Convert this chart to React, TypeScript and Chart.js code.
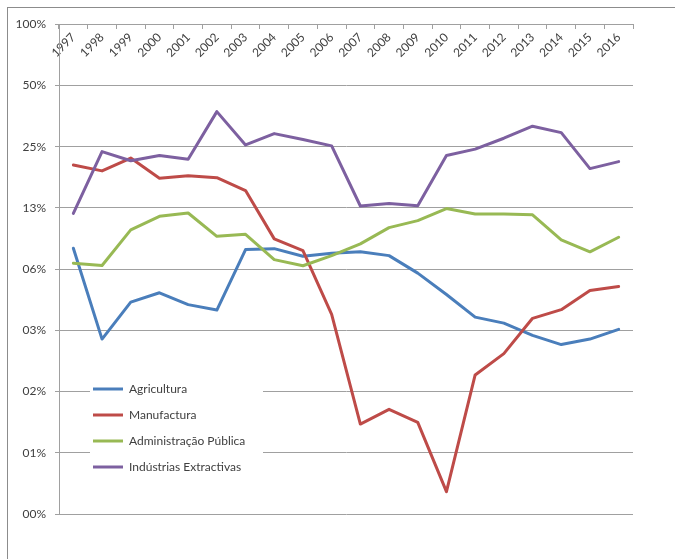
import React, { useEffect, useRef } from 'react';
import { Chart, registerables } from 'chart.js';

Chart.register(...registerables);

const years = ['1997', '1998', '1999', '2000', '2001', '2002', '2003', '2004', '2005', '2006', '2007', '2008', '2009', '2010', '2011', '2012', '2013', '2014', '2015', '2016'];

const agricultura = [7.91, 2.83, 4.3, 4.78, 4.18, 3.93, 7.8, 7.88, 7.23, 7.47, 7.6, 7.28, 5.97, 4.69, 3.63, 3.39, 2.95, 2.66, 2.83, 3.16];
const manufactura = [20.3, 19.0, 21.97, 17.5, 18.0, 17.6, 15.2, 8.8, 7.71, 3.74, 1.081, 1.277, 1.103, 0.503, 1.886, 2.4, 3.58, 3.95, 4.91, 5.13];
const administracao = [6.68, 6.51, 9.74, 11.36, 11.8, 9.06, 9.27, 6.96, 6.49, 7.28, 8.32, 10.0, 10.82, 12.4, 11.67, 11.67, 11.55, 8.7, 7.6, 8.96];
const extractivas = [11.74, 23.65, 21.3, 22.61, 21.7, 37.16, 25.5, 28.98, 27.09, 25.23, 12.77, 13.15, 12.81, 22.61, 24.3, 27.5, 31.5, 29.3, 19.5, 21.1];

const seriesNames = ['Agricultura', 'Manufactura', 'Administração Pública', 'Indústrias Extractivas'];
const seriesColors = ['#4A7EBB', '#BE4B48', '#98B954', '#7D60A0'];

const yTickValues = [100, 50, 25, 12.5, 6.25, 3.125, 1.5625, 0.78125, 0.390625];

const formatPct = (v: number) => String(Math.round(v)).padStart(2, '0') + '%';

const gridColor = '#a0a0a0';
const textColor = '#404040';
const font = { family: 'Lato', size: 12 };

const legendPlacer = {
  id: 'legendPlacer',
  afterLayout(chart: any) {
    const lg = chart.legend;
    const ca = chart.chartArea;
    if (!lg || !ca) return;
    lg.left = ca.left + 20;
    lg.top = ca.bottom - 145;
    lg.width = 220;
    lg.height = 140;
    lg.right = lg.left + lg.width;
    lg.bottom = lg.top + lg.height;
  },
  beforeDatasetsDraw(chart: any) {
    const lg = chart.legend;
    if (!lg) return;
    const ctx = chart.ctx;
    ctx.save();
    ctx.fillStyle = '#ffffff';
    ctx.fillRect(lg.left + 11, lg.top + 6, 173, 105);
    ctx.restore();
    lg.draw();
  },
};

export default function App() {
  const ref = useRef<HTMLCanvasElement>(null);

  useEffect(() => {
    if (!ref.current) return;
    const allSeries = [agricultura, manufactura, administracao, extractivas];
    const chart = new Chart(ref.current, {
      type: 'line',
      data: {
        labels: years,
        datasets: allSeries.map((d, i) => ({
          label: seriesNames[i],
          data: d,
          borderColor: seriesColors[i],
          backgroundColor: seriesColors[i],
          borderWidth: 3,
          pointRadius: 0,
          tension: 0,
          borderJoinStyle: 'round' as const,
          borderCapStyle: 'round' as const,
          order: 4 - i,
        })),
      },
      options: {
        animation: false,
        responsive: false,
        devicePixelRatio: 1,
        layout: { padding: { top: 15, bottom: 45, left: 0, right: 42 } },
        plugins: {
          tooltip: { enabled: false },
          legend: {
            position: 'chartArea' as any,
            align: 'start',
            labels: {
              usePointStyle: true,
              pointStyle: 'line',
              pointStyleWidth: 30,
              boxHeight: 12,
              padding: 14,
              font,
              color: textColor,
              sort: (a: any, b: any) => a.datasetIndex - b.datasetIndex,
            },
          },
        },
        scales: {
          x: {
            type: 'category',
            position: { y: 100 } as any,
            offset: true,
            grid: { offset: true, drawOnChartArea: false, drawTicks: true, tickLength: 4, color: gridColor },
            border: { display: true, color: gridColor },
            ticks: { autoSkip: false, maxRotation: 45, minRotation: 45, padding: 2, font, color: textColor },
          },
          y: {
            type: 'logarithmic',
            position: 'left',
            min: yTickValues[yTickValues.length - 1],
            max: yTickValues[0],
            afterBuildTicks: (s: any) => {
              s.ticks = yTickValues.map((v) => ({ value: v }));
            },
            afterFit: (s: any) => {
              s.width = 51;
            },
            grid: { color: gridColor, tickLength: 4 },
            border: { color: gridColor },
            ticks: { callback: (v: any) => formatPct(Number(v)), padding: 9, font, color: textColor },
          },
        },
      },
      plugins: [legendPlacer],
    } as any);
    return () => chart.destroy();
  }, []);

  return (
    <div
      style={{
        position: 'fixed',
        left: 7,
        top: 7,
        width: 668,
        height: 552,
        borderLeft: '1px solid #8c8c8c',
        borderTop: '1px solid #8c8c8c',
        background: '#ffffff',
      }}
    >
      <canvas ref={ref} width={667} height={551} style={{ display: 'block', width: 667, height: 551 }} />
    </div>
  );
}
